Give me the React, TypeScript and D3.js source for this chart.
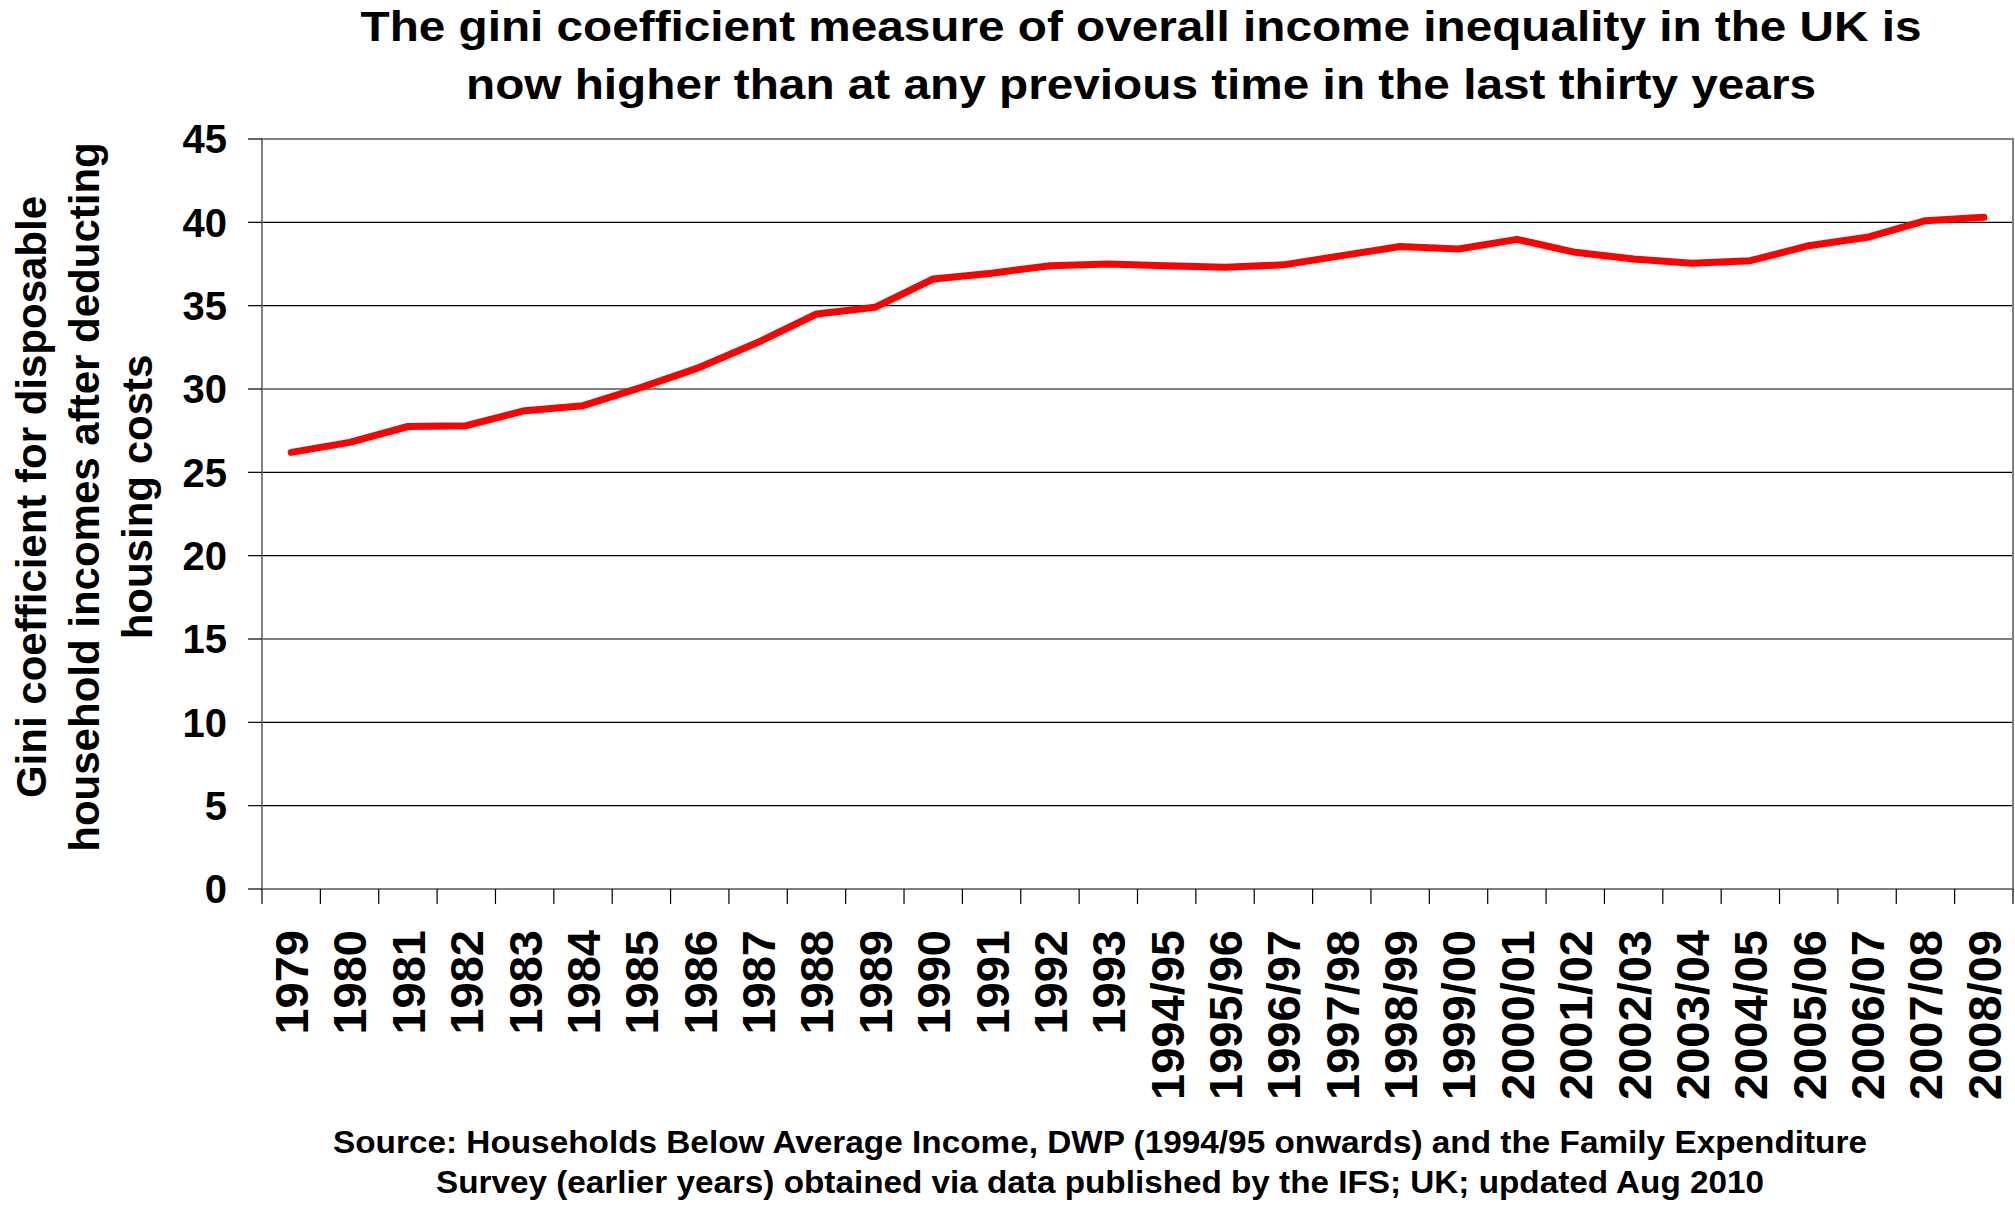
import * as d3 from "d3";

const categories = [
  "1979", "1980", "1981", "1982", "1983", "1984", "1985", "1986", "1987", "1988",
  "1989", "1990", "1991", "1992", "1993", "1994/95", "1995/96", "1996/97", "1997/98",
  "1998/99", "1999/00", "2000/01", "2001/02", "2002/03", "2003/04", "2004/05",
  "2005/06", "2006/07", "2007/08", "2008/09",
];

// gini coefficient (AHC)
const gini = [
  26.2, 26.8, 27.75, 27.8, 28.7, 29.0, 30.1, 31.3, 32.8, 34.5,
  34.9, 36.6, 36.95, 37.4, 37.5, 37.4, 37.3, 37.45, 38.0,
  38.55, 38.4, 38.98, 38.2, 37.8, 37.55, 37.7,
  38.6, 39.1, 40.1, 40.3,
];

const yTicks = [0, 5, 10, 15, 20, 25, 30, 35, 40, 45];

const titleLines = [
  "The gini coefficient measure of overall income inequality in the UK is",
  "now higher than at any previous time in the last thirty years",
];
const yTitleLines = [
  "Gini coefficient for disposable",
  "household incomes after deducting",
  "housing costs",
];
const sourceLines = [
  "Source: Households Below Average Income, DWP (1994/95 onwards) and the Family Expenditure",
  "Survey (earlier years) obtained via data published by the IFS; UK; updated Aug 2010",
];

const W = 2015;
const H = 1229;
const FONT = "'Liberation Sans', Arial, sans-serif";

export default function App() {
  const left = 262;
  const right = 2013;
  const top = 139;
  const bottom = 889;

  const x = d3.scaleBand<string>().domain(categories).range([left, right]).padding(0);
  const y = d3.scaleLinear().domain([0, 45]).range([bottom, top]);
  const cx = (c: string) => (x(c) ?? 0) + x.bandwidth() / 2;

  const pts = categories.map((c, i) => ({ c, v: gini[i] }));
  const line = d3
    .line<(typeof pts)[0]>()
    .x((d) => cx(d.c))
    .y((d) => y(d.v));

  // tick positions on the category axis sit on the band edges
  const xTickPos = [...categories.map((c) => x(c) ?? 0), right];

  return (
    <div style={{ position: "absolute", left: 0, top: 0 }}>
      <svg width={W} height={H} style={{ display: "block", background: "#fff" }} fontFamily={FONT}>
        {/* title */}
        {titleLines.map((t, i) => (
          <text
            key={t}
            x={1141}
            y={41 + i * 58}
            textAnchor="middle"
            fontSize={42}
            fontWeight="bold"
            textLength={i === 0 ? 1561 : 1350}
            lengthAdjust="spacingAndGlyphs"
          >
            {t}
          </text>
        ))}

        {/* gridlines */}
        {yTicks
          .filter((t) => t > 0 && t < 45)
          .map((t) => (
            <line key={t} x1={left} x2={right} y1={y(t)} y2={y(t)} stroke="#000" strokeWidth={1.2} />
          ))}

        {/* plot frame */}
        <rect x={left} y={top} width={right - left} height={bottom - top} fill="none" stroke="#808080" strokeWidth={2} />

        {/* y ticks + labels */}
        {yTicks.map((t) => (
          <g key={t}>
            <line x1={left - 14} x2={left} y1={y(t)} y2={y(t)} stroke="#000" strokeWidth={1.2} />
            <text x={227} y={y(t)} dy="0.36em" textAnchor="end" fontSize={40} fontWeight="bold">
              {t}
            </text>
          </g>
        ))}

        {/* x ticks */}
        {xTickPos.map((p, i) => (
          <line key={i} x1={p} x2={p} y1={bottom} y2={bottom + 15} stroke="#000" strokeWidth={1.2} />
        ))}

        {/* category labels */}
        {categories.map((c) => (
          <text
            key={c}
            transform={`translate(${cx(c)},930) rotate(-90)`}
            dy="0.36em"
            textAnchor="end"
            fontSize={47}
            fontWeight="bold"
          >
            {c}
          </text>
        ))}

        {/* y axis title */}
        {yTitleLines.map((t, i) => (
          <text
            key={t}
            transform={`translate(${46 + i * 53},497) rotate(-90)`}
            textAnchor="middle"
            fontSize={42}
            fontWeight="bold"
          >
            {t}
          </text>
        ))}

        {/* series */}
        <path
          d={line(pts) ?? ""}
          fill="none"
          stroke="#ff0000"
          strokeWidth={7}
          strokeLinejoin="round"
          strokeLinecap="round"
        />

        {/* source */}
        {sourceLines.map((t, i) => (
          <text
            key={t}
            x={1100}
            y={1153 + i * 40}
            textAnchor="middle"
            fontSize={31}
            fontWeight="bold"
            textLength={i === 0 ? 1534 : 1328}
            lengthAdjust="spacingAndGlyphs"
          >
            {t}
          </text>
        ))}
      </svg>
    </div>
  );
}
